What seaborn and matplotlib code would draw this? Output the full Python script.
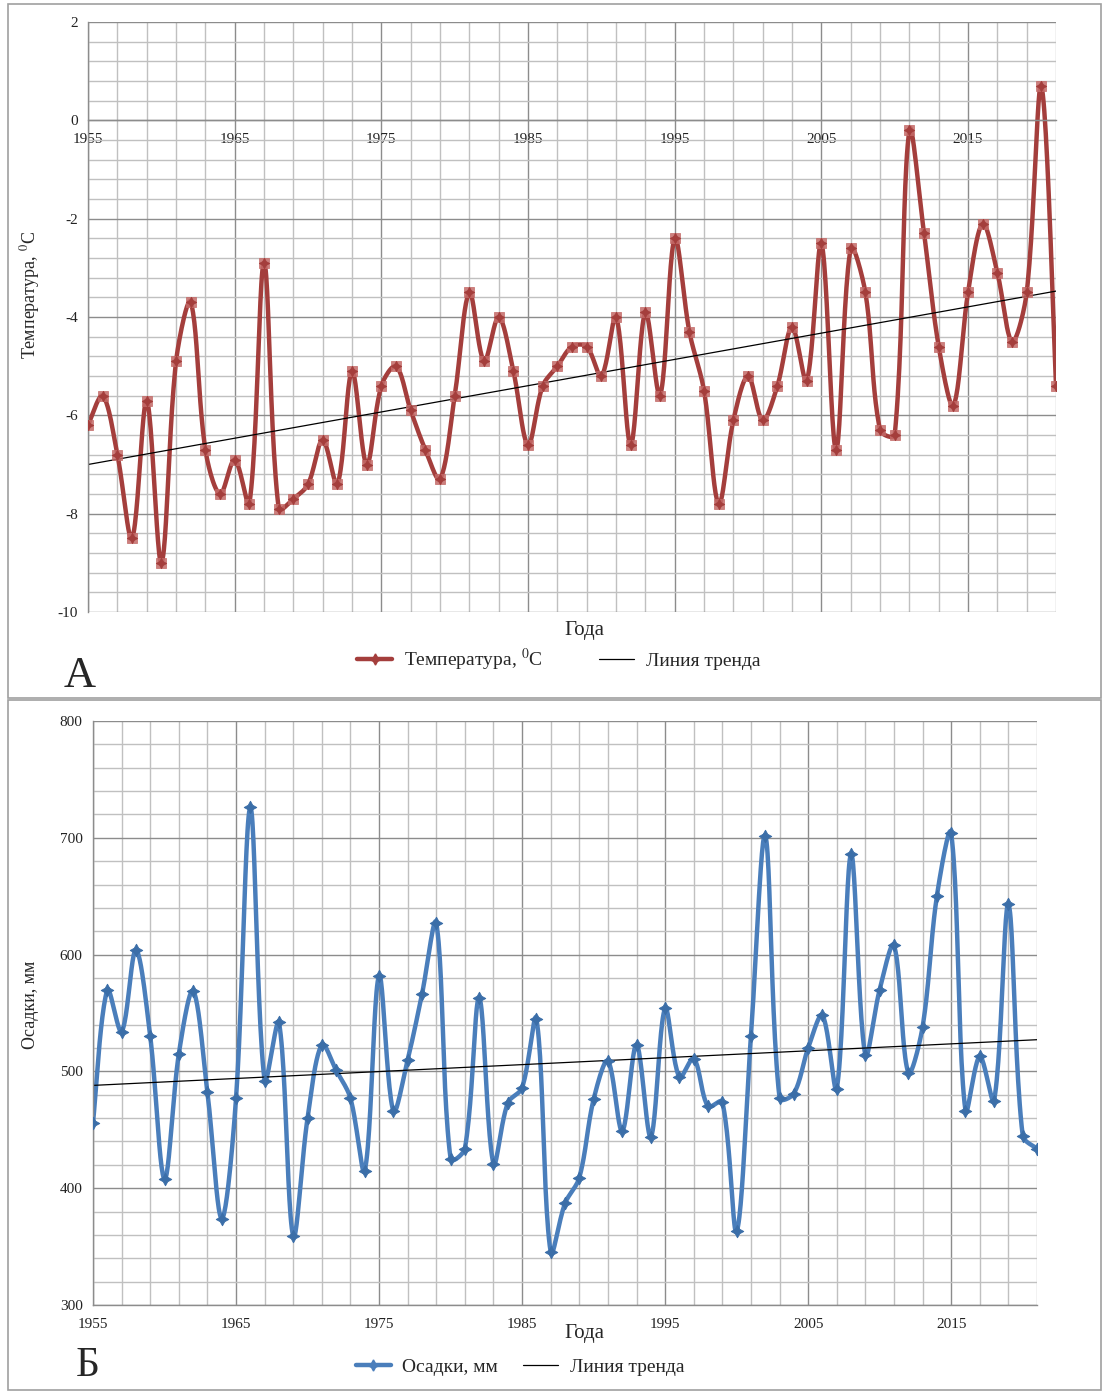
import numpy as np
import pandas as pd
import seaborn as sns
import matplotlib.pyplot as plt
from matplotlib.lines import Line2D
from matplotlib.patches import Rectangle
from matplotlib.ticker import FixedLocator

# ---- data ----
years = list(range(1955, 2022))

temperature = [
    -6.2, -5.6, -6.8, -8.5, -5.7, -9.0, -4.9, -3.7, -6.7, -7.6,   # 1955-1964
    -6.9, -7.8, -2.9, -7.9, -7.7, -7.4, -6.5, -7.4, -5.1, -7.0,   # 1965-1974
    -5.4, -5.0, -5.9, -6.7, -7.3, -5.6, -3.5, -4.9, -4.0, -5.1,   # 1975-1984
    -6.6, -5.4, -5.0, -4.6, -4.6, -5.2, -4.0, -6.6, -3.9, -5.6,   # 1985-1994
    -2.4, -4.3, -5.5, -7.8, -6.1, -5.2, -6.1, -5.4, -4.2, -5.3,   # 1995-2004
    -2.5, -6.7, -2.6, -3.5, -6.3, -6.4, -0.2, -2.3, -4.6, -5.8,   # 2005-2014
    -3.5, -2.1, -3.1, -4.5, -3.5, 0.7, -5.4,                      # 2015-2021
]

precipitation = [
    456, 570, 534, 604, 530, 408, 515, 569, 482, 374,   # 1955-1964
    477, 726, 492, 542, 359, 460, 523, 501, 477, 415,   # 1965-1974
    582, 466, 510, 566, 627, 425, 434, 563, 421, 473,   # 1975-1984
    486, 545, 345, 387, 409, 476, 509, 449, 523, 444,   # 1985-1994
    554, 495, 511, 470, 474, 363, 530, 702, 477, 481,   # 1995-2004
    520, 548, 485, 686, 514, 570, 608, 499, 538, 650,   # 2005-2014
    704, 466, 513, 475, 643, 445, 434,                  # 2015-2021
]

year_ticks = [1955, 1965, 1975, 1985, 1995, 2005, 2015]
temp_ticks = [-10, -8, -6, -4, -2, 0, 2]
prec_ticks = [300, 400, 500, 600, 700, 800]

df = pd.DataFrame({"year": years, "temp": temperature, "prec": precipitation})

sns.set_theme(style="white")
plt.rcParams['font.family'] = ['Liberation Serif', 'DejaVu Serif']
plt.rcParams['mathtext.fontset'] = 'stix'
plt.rcParams['axes.unicode_minus'] = False

RED = "#a43e3c"
RED_MARK = "#c46a68"
BLUE = "#4a7ebb"
BLUE_MARK = "#3b6ea8"


def smooth(x, y, sx, sy, n=24):
    # smoothed line like a spreadsheet chart: Bezier segments, control points
    # along the neighbour chord, shortened next to short segments (screen space)
    x = np.asarray(x, float) * sx
    y = np.asarray(y, float) * sy
    P = np.column_stack([x, y])
    m = len(P)
    L = np.hypot(*(P[1:] - P[:-1]).T)
    t = np.linspace(0, 1, n, endpoint=False)[:, None]
    pts = []
    for i in range(m - 1):
        p0, p3 = P[i], P[i + 1]
        a, b = max(i - 1, 0), min(i + 2, m - 1)
        D0 = P[i + 1] - P[a]
        D1 = P[b] - P[i]
        l_prev = L[i - 1] if i > 0 else L[i]
        l_next = L[i + 1] if i + 1 < m - 1 else L[i]
        c1 = p0 + D0 * L[i] / (l_prev + L[i]) / 3
        c2 = p3 - D1 * L[i] / (L[i] + l_next) / 3
        seg = ((1 - t) ** 3) * p0 + 3 * ((1 - t) ** 2) * t * c1 + 3 * (1 - t) * t ** 2 * c2 + t ** 3 * p3
        pts.append(seg)
    pts.append(P[-1][None, :])
    pts = np.vstack(pts)
    return pts[:, 0] / sx, pts[:, 1] / sy


def style_grid(ax, ymin, ymax, ystep):
    ax.set_xlim(1955, 2021)
    ax.set_ylim(ymin, ymax)
    ax.xaxis.set_major_locator(FixedLocator(year_ticks))
    ax.xaxis.set_minor_locator(FixedLocator(np.arange(1955, 2022, 2)))
    ax.yaxis.set_minor_locator(FixedLocator(np.arange(ymin, ymax + 1e-6, ystep)))
    ax.grid(which='major', color='#8c8c8c', lw=1.0)
    ax.grid(which='minor', color='#c0c0c0', lw=1.0)
    ax.set_axisbelow(True)
    for s in ['top', 'right']:
        ax.spines[s].set_visible(False)
    for s in ['left', 'bottom']:
        ax.spines[s].set_color('#8c8c8c')
        ax.spines[s].set_linewidth(1.0)
    ax.tick_params(axis='both', which='major', direction='out', length=4,
                   width=1, color='#8c8c8c', labelsize=11, labelcolor='#222222')
    ax.tick_params(axis='both', which='minor', length=0)


fig = plt.figure(figsize=(11.02, 13.92), dpi=100)

# ---- panel A: temperature ----
ax1 = fig.add_axes([0.0799, 0.5603, 0.8784, 0.4239])
style_grid(ax1, -10, 2, 0.4)
ax1.set_yticks(temp_ticks)
ax1.spines['bottom'].set_position(('data', 0))
ax1.tick_params(axis='x', which='major', pad=5)

sx, sy = smooth(df["year"], df["temp"], 14.6, 49.2)
sns.lineplot(x=sx, y=sy, sort=False, estimator=None, color=RED, lw=3.2, ax=ax1)
sns.scatterplot(x=df["year"], y=df["temp"], marker='s', s=55, color=RED_MARK,
                edgecolor=RED_MARK, alpha=0.85, ax=ax1, zorder=3)
sns.scatterplot(x=df["year"], y=df["temp"], marker=(4, 1, 0), s=55, color=RED,
                edgecolor=RED, ax=ax1, zorder=4)
sns.regplot(x=df["year"], y=df["temp"], scatter=False, ci=None, truncate=True,
            color='black', line_kws={'lw': 0.9}, ax=ax1)

ax1.set_xlabel("Года", fontsize=15)
ax1.xaxis.set_label_coords(0.513, -0.015)
ax1.set_ylabel("Температура, $^0$C", fontsize=13)
ax1.yaxis.set_label_coords(-0.0475, 0.537)

h1 = [Line2D([], [], color=RED, lw=3.2, marker=(4, 1, 0), markersize=8),
      Line2D([], [], color='black', lw=0.9)]
fig.legend(h1, ["Температура, $^0$C", "Линия тренда"], loc='center',
           bbox_to_anchor=(0.507, 0.526), ncol=2, frameon=False, fontsize=14,
           handlelength=1.8, columnspacing=2.9, handletextpad=0.6)
fig.text(0.0726, 0.5144, "А", fontsize=32, ha='center', va='center')

# ---- panel Б: precipitation ----
ax2 = fig.add_axes([0.0844, 0.0625, 0.8566, 0.4195])
style_grid(ax2, 300, 800, 20)
ax2.set_yticks(prec_ticks)
ax2.tick_params(axis='x', which='major', pad=5)

sx, sy = smooth(df["year"], df["prec"], 14.3, 1.168)
sns.lineplot(x=sx, y=sy, sort=False, estimator=None, color=BLUE, lw=3.2, ax=ax2)
sns.scatterplot(x=df["year"], y=df["prec"], marker=(4, 1, 0), s=80, color=BLUE_MARK,
                edgecolor=BLUE_MARK, ax=ax2, zorder=4)
sns.regplot(x=df["year"], y=df["prec"], scatter=False, ci=None, truncate=True,
            color='black', line_kws={'lw': 0.9}, ax=ax2)

ax2.set_xlabel("Года", fontsize=15)
ax2.xaxis.set_label_coords(0.521, -0.0325)
ax2.set_ylabel("Осадки, мм", fontsize=13)
ax2.yaxis.set_label_coords(-0.0573, 0.514)

h2 = [Line2D([], [], color=BLUE, lw=3.2, marker=(4, 1, 0), markersize=8),
      Line2D([], [], color='black', lw=0.9)]
fig.legend(h2, ["Осадки, мм", "Линия тренда"], loc='center',
           bbox_to_anchor=(0.472, 0.018), ncol=2, frameon=False, fontsize=14,
           handlelength=1.8, columnspacing=1.3, handletextpad=0.6)
fig.text(0.08, 0.0187, "Б", fontsize=30, ha='center', va='center')

# panel frames
fig.add_artist(Rectangle((0.007, 0.4986), 0.992, 0.4985, transform=fig.transFigure,
                         fill=False, ec='#a0a0a0', lw=1.2))
fig.add_artist(Rectangle((0.007, 0.0014), 0.992, 0.4956, transform=fig.transFigure,
                         fill=False, ec='#a0a0a0', lw=1.2))

fig.savefig("out.png", dpi=100)
